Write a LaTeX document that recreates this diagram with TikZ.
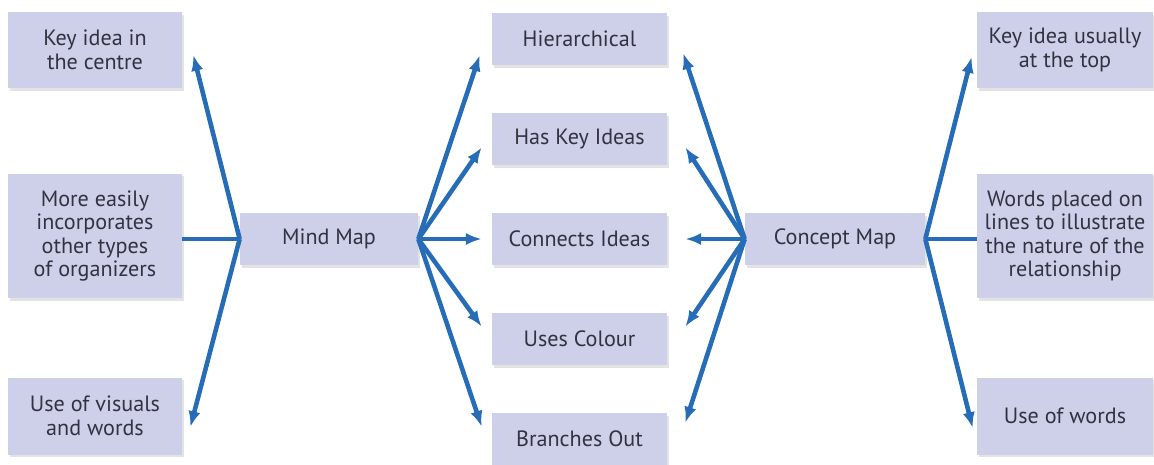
\documentclass[tikz,border=0pt]{standalone}
\usepackage{fontspec}
\setmainfont{PT Sans}
\usetikzlibrary{arrows.meta,shadows}
\definecolor{boxfill}{RGB}{206,208,234}
\definecolor{arrblue}{RGB}{38,108,182}
\definecolor{txtgray}{RGB}{50,50,65}
\tikzset{
	box/.style={fill=boxfill, align=center, text=txtgray, inner sep=0pt,
		font=\fontsize{12.6}{13.4}\selectfont,
		drop shadow={shadow xshift=1.2pt, shadow yshift=-1.5pt, fill=black!22}},
	sidebox/.style={box, minimum width=3.48cm},
	midbox/.style={box, minimum width=3.5cm, minimum height=1.04cm},
	arr/.style={draw=arrblue, line width=2.6pt, -{Latex[length=9pt,width=7pt]}},
	ln/.style={draw=arrblue, line width=2.6pt}
}

\begin{document}
\begin{tikzpicture}[x=0.02cm, y=-0.02cm]
		%%%%% START %%%%%
		\useasboundingbox (0, 0) rectangle (1154, 464);
		
		% left column
		\node[sidebox, minimum height=1.52cm] (lkey) at (95, 50) {Key idea in\\the centre};
		\node[sidebox, minimum height=2.5cm] (lorg) at (95, 236) {More easily\\incorporates\\other types\\of organizers};
		\node[sidebox, minimum height=1.54cm] (lvis) at (95, 416) {Use of visuals\\and words};
		
		\node[box, minimum width=3.56cm, minimum height=1.04cm] (mind) at (329, 239) {Mind Map};
		
		% middle column
		\node[midbox] (hier) at (579.5, 39) {Hierarchical};
		\node[midbox] (keyid) at (579.5, 139) {Has Key Ideas};
		\node[midbox] (conn) at (579.5, 239) {Connects Ideas};
		\node[midbox] (colour) at (579.5, 339) {Uses Colour};
		\node[midbox] (branch) at (579.5, 439) {Branches Out};
		
		\node[box, minimum width=3.6cm, minimum height=1.04cm] (concept) at (835, 239) {Concept Map};
		
		% right column
		\node[sidebox, minimum width=3.52cm, minimum height=1.52cm] (rkey) at (1065, 50) {Key idea usually\\at the top};
		\node[sidebox, minimum width=3.52cm, minimum height=2.5cm] (rword) at (1065, 236) {Words placed on\\lines to illustrate\\the nature of the\\relationship};
		\node[sidebox, minimum width=3.52cm, minimum height=1.54cm] (ruse) at (1065, 416) {Use of words};
		
		% mind map
		\draw[arr] (mind.west) -- ([shift={(11, 5)}]lkey.east);
		\draw[ln] (mind.west) -- (lorg.east |- mind.west);
		\draw[arr] (mind.west) -- ([shift={(8, 11)}]lvis.east);
		
		\draw[arr] (mind.east) -- ([shift={(-12, -10)}]hier.south west);
		\draw[arr] (mind.east) -- ([shift={(-10, -18)}]keyid.south west);
		\draw[arr] (mind.east) -- ([shift={(-10, 0)}]conn.west);
		\draw[arr] (mind.east) -- ([shift={(-10, 14)}]colour.north west);
		\draw[arr] (mind.east) -- ([shift={(-10, 14)}]branch.north west);
		
		% concept map
		\draw[arr] (concept.west) -- ([shift={(16, -12)}]hier.south east);
		\draw[arr] (concept.west) -- ([shift={(18, -18)}]keyid.south east);
		\draw[arr] (concept.west) -- ([shift={(18, 0)}]conn.east);
		\draw[arr] (concept.west) -- ([shift={(18, 14)}]colour.north east);
		\draw[arr] (concept.west) -- ([shift={(18, 10)}]branch.north east);
		
		\draw[arr] (concept.east) -- ([shift={(-5, 7)}]rkey.west);
		\draw[ln] (concept.east) -- (rword.west |- concept.east);
		\draw[arr] (concept.east) -- ([shift={(-4, 12)}]ruse.west);
		%%%%% END %%%%%
	\end{tikzpicture}
\end{document}
